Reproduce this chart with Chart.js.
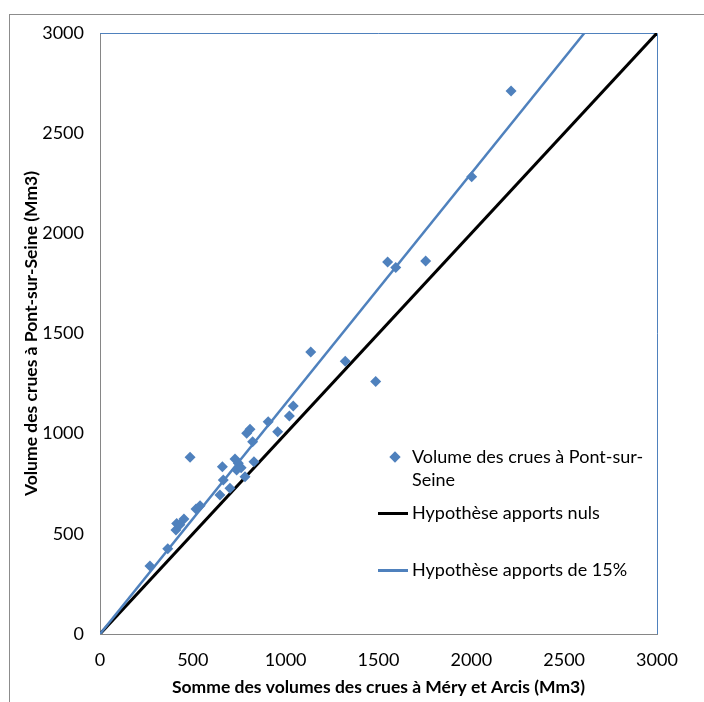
<!DOCTYPE html>
<html>
<head>
<meta charset="utf-8">
<script src="https://cdn.jsdelivr.net/npm/chart.js@4.4.1/dist/chart.umd.min.js"></script>
<style>
  body { margin: 0; background: #fff; font-family: Lato, sans-serif; }
  #wrap { position: relative; width: 704px; height: 702px; overflow: hidden; }
  #frame { position: absolute; left: 9px; top: 14px; width: 800px; height: 800px;
           border-left: 1px solid #8c8c8c; border-top: 1px solid #8c8c8c; }
  #chart { position: absolute; left: 0; top: 0; }
  #legend { position: absolute; left: 376px; top: 445px; font-size: 18px; color: #000; line-height: 23px; }
  .item { position: absolute; padding-left: 36px; width: 236px; }
  .marker { position: absolute; left: 0; }
</style>
</head>
<body>
<div id="wrap">
  <div id="frame"></div>
  <canvas id="chart" width="704" height="702"></canvas>
  <div id="legend"></div>
</div>
<script>
// Somme des volumes Méry + Arcis (x) et volume à Pont-sur-Seine (y), Mm3
const sommeMeryArcis = [269, 365, 409, 413, 452, 430, 517, 539, 485, 646, 700, 664, 659, 727, 745, 736, 781, 760, 829, 790, 808, 822, 906, 957, 1020, 1041, 1135, 1321, 1485, 1549, 1593, 1754, 2002, 2214];
const volumePontSurSeine = [339, 426, 519, 552, 574, 545, 624, 640, 882, 694, 727, 769, 835, 874, 852, 819, 785, 830, 860, 1002, 1022, 960, 1060, 1010, 1088, 1138, 1408, 1361, 1260, 1857, 1829, 1862, 2283, 2711];

// hypothesis lines
const apportsNulsX = [0, 3000];
const apportsNulsY = [0, 3000];
const apports15X = [0, 2609];
const apports15Y = [0, 3000];

const axisMin = 0;
const axisMax = 3000;
const axisStep = 500;

const labels = ['Volume des crues à Pont-sur-Seine', 'Hypothèse apports nuls', 'Hypothèse apports de 15%'];
const blue = '#4f81bd';

const toPoints = (xs, ys) => xs.map((x, i) => ({ x, y: ys[i] }));

const frameLines = {
  id: 'frameLines',
  beforeDatasetsDraw(chart) {
    const { ctx, chartArea: a } = chart;
    ctx.save();
    ctx.lineWidth = 1;
    ctx.strokeStyle = blue;
    ctx.beginPath();
    ctx.moveTo(a.left, a.top + 0.5);
    ctx.lineTo(a.right + 0.5, a.top + 0.5);
    ctx.lineTo(a.right + 0.5, a.bottom);
    ctx.stroke();
    ctx.restore();
  }
};

const tickFont = { family: 'Lato', size: 18 };
const titleFont = { family: 'Lato', size: 17.5, weight: 'bold' };

const chart = new Chart(document.getElementById('chart'), {
  type: 'scatter',
  data: {
    datasets: [
      {
        label: labels[0],
        data: toPoints(sommeMeryArcis, volumePontSurSeine),
        pointStyle: 'rectRot',
        pointRadius: 5.5,
        backgroundColor: blue,
        borderColor: blue,
        borderWidth: 0,
        order: 0,
      },
      {
        label: labels[1],
        type: 'line',
        data: toPoints(apportsNulsX, apportsNulsY),
        borderColor: '#000',
        borderWidth: 3,
        pointRadius: 0,
        fill: false,
        order: 2,
      },
      {
        label: labels[2],
        type: 'line',
        data: toPoints(apports15X, apports15Y),
        borderColor: blue,
        borderWidth: 2.5,
        pointRadius: 0,
        fill: false,
        order: 1,
      },
    ],
  },
  options: {
    responsive: false,
    animation: false,
    layout: { padding: { left: 0, top: 33, right: 47, bottom: 0 } },
    scales: {
      x: {
        type: 'linear',
        min: axisMin,
        max: axisMax,
        grid: { display: false, drawTicks: false },
        border: { color: '#868686', width: 1 },
        ticks: { stepSize: axisStep, padding: 15, color: '#000', font: tickFont, callback: v => String(v) },
        title: {
          display: true,
          text: 'Somme des volumes des crues à Méry et Arcis (Mm3)',
          color: '#000',
          font: titleFont,
          padding: { top: 0, bottom: 4 },
        },
        afterFit: scale => { scale.height = 68; },
      },
      y: {
        type: 'linear',
        min: axisMin,
        max: axisMax,
        grid: { display: false, drawTicks: false },
        border: { color: '#868686', width: 1 },
        ticks: { stepSize: axisStep, padding: 16, color: '#000', font: tickFont, callback: v => String(v) },
        title: {
          display: true,
          text: 'Volume des crues à Pont-sur-Seine (Mm3)',
          color: '#000',
          font: titleFont,
          padding: { top: 21, bottom: 0 },
        },
        afterFit: scale => { scale.width = 100; },
      },
    },
    plugins: {
      legend: { display: false },
      tooltip: { enabled: false },
    },
  },
  plugins: [frameLines],
});

// Legend inside the plot area, built from dataset labels
const legend = document.getElementById('legend');
const tops = [0, 56, 113];
chart.data.datasets.forEach((ds, i) => {
  const item = document.createElement('div');
  item.className = 'item';
  item.style.top = tops[i] + 'px';
  const m = document.createElement('span');
  m.className = 'marker';
  if (i === 0) {
    m.style.cssText = 'left:15px;top:8px;width:8px;height:8px;background:' + blue + ';transform:rotate(45deg)';
  } else {
    m.style.cssText = 'left:2px;top:11px;width:30px;height:' + (i === 1 ? 3 : 2.5) + 'px;background:' + ds.borderColor;
  }
  item.appendChild(m);
  item.appendChild(document.createTextNode(ds.label));
  legend.appendChild(item);
});
</script>
</body>
</html>
